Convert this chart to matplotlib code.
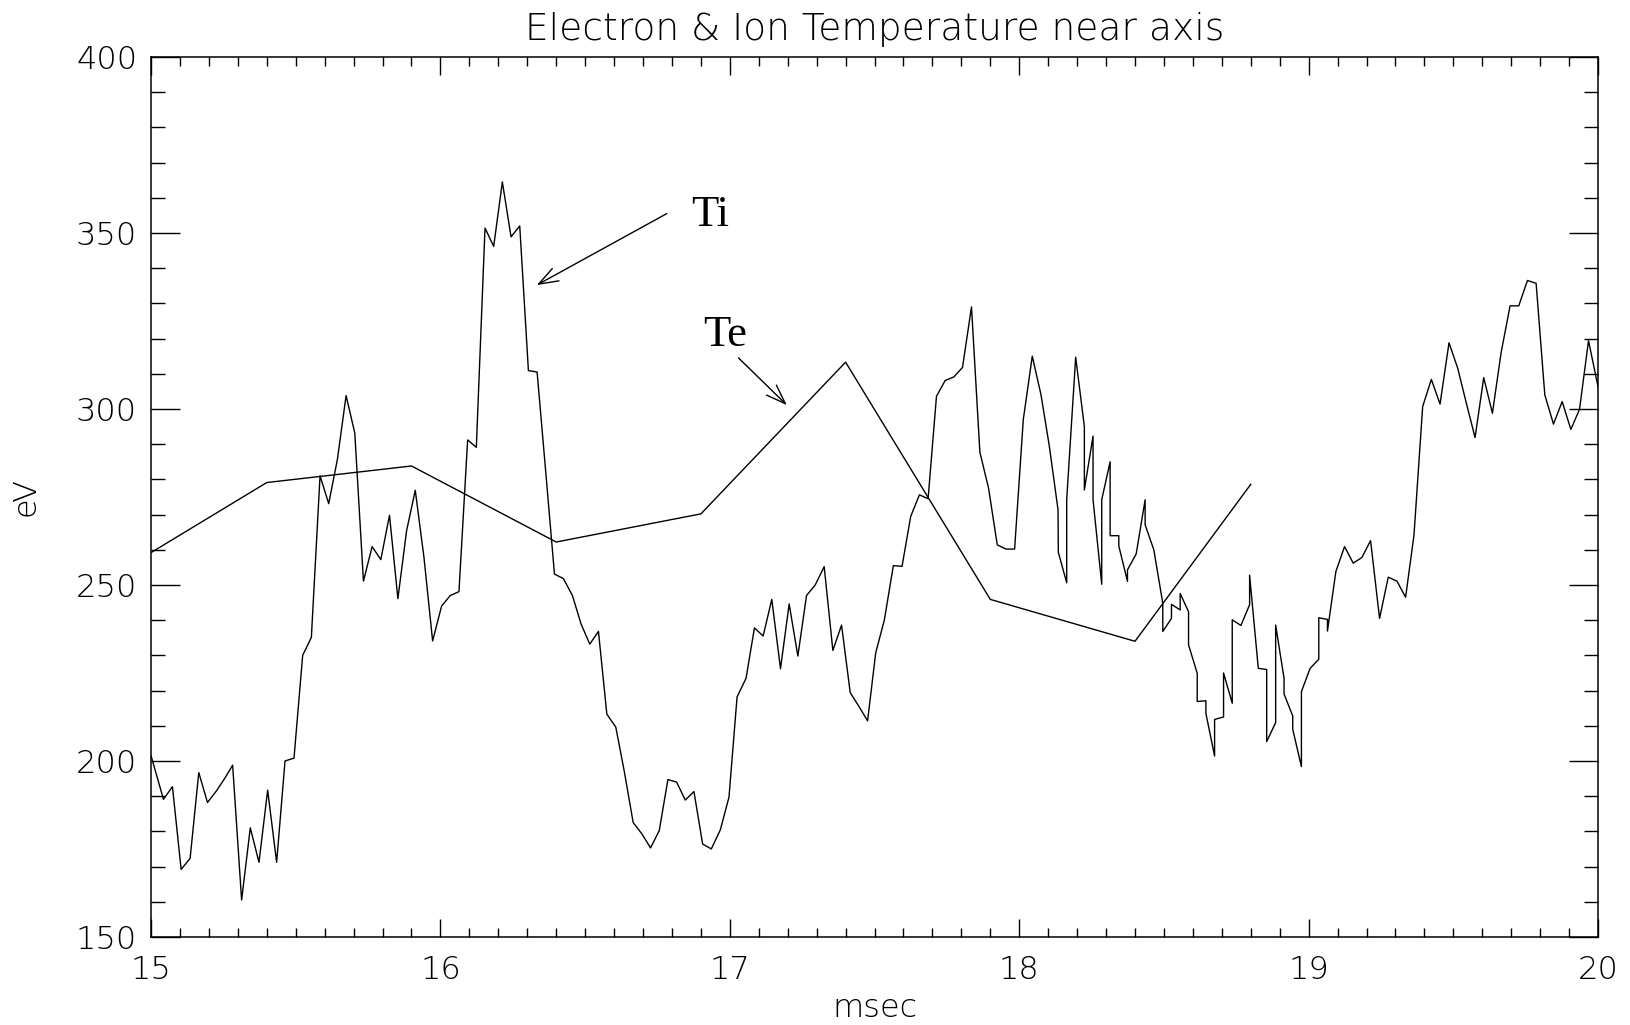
"""Electron & Ion Temperature near axis: Te (coarse) and Ti (fine) versus time."""

import matplotlib
matplotlib.use("Agg")
import matplotlib.pyplot as plt
from matplotlib.ticker import MultipleLocator


# Te: electron temperature, coarse samples (msec, eV)
te_time = [15.0, 15.4, 15.9, 16.4, 16.9, 17.4, 17.9, 18.4, 18.8]
te_value = [259.2, 279.1, 283.8, 262.2, 270.2, 313.3, 245.9, 234.0, 278.6]

# Ti: ion temperature, fine samples (msec, eV)
ti_time = [
    15.000, 15.043, 15.074, 15.104, 15.135, 15.165, 15.195, 15.227, 15.255, 15.282,
    15.313, 15.343, 15.373, 15.403, 15.434, 15.463, 15.494, 15.524, 15.554, 15.584,
    15.614, 15.644, 15.674, 15.704, 15.734, 15.764, 15.794, 15.824, 15.853, 15.883,
    15.913, 15.943, 15.973, 16.004, 16.034, 16.064, 16.094, 16.124, 16.154, 16.184,
    16.214, 16.244, 16.274, 16.304, 16.334, 16.364, 16.394, 16.425, 16.456, 16.486,
    16.516, 16.546, 16.575, 16.606, 16.636, 16.666, 16.696, 16.726, 16.756, 16.786,
    16.816, 16.846, 16.876, 16.906, 16.936, 16.967, 16.997, 17.025, 17.056, 17.085,
    17.115, 17.145, 17.175, 17.205, 17.235, 17.265, 17.295, 17.326, 17.356, 17.386,
    17.416, 17.446, 17.476, 17.504, 17.534, 17.565, 17.595, 17.625, 17.655, 17.685,
    17.714, 17.744, 17.774, 17.804, 17.835, 17.864, 17.894, 17.924, 17.954, 17.984,
    18.014, 18.045, 18.075, 18.104, 18.134, 18.135, 18.164, 18.164, 18.195, 18.225,
    18.225, 18.255, 18.255, 18.285, 18.285, 18.314, 18.314, 18.344, 18.344, 18.374,
    18.374, 18.404, 18.435, 18.435, 18.465, 18.496, 18.496, 18.526, 18.526, 18.556,
    18.556, 18.585, 18.585, 18.615, 18.615, 18.645, 18.645, 18.675, 18.675, 18.706,
    18.706, 18.736, 18.736, 18.766, 18.796, 18.796, 18.826, 18.855, 18.855, 18.886,
    18.886, 18.915, 18.915, 18.945, 18.945, 18.975, 18.975, 19.005, 19.035, 19.035,
    19.065, 19.065, 19.094, 19.124, 19.154, 19.184, 19.214, 19.245, 19.275, 19.305,
    19.335, 19.364, 19.394, 19.424, 19.454, 19.485, 19.515, 19.545, 19.575, 19.605,
    19.635, 19.665, 19.696, 19.726, 19.756, 19.786, 19.816, 19.846, 19.876, 19.906,
    19.936, 19.967, 20.000,
]
ti_value = [
    201.5, 189.1, 192.7, 169.2, 172.3, 196.7, 188.2, 191.6, 195.1, 198.8,
    160.5, 181.0, 171.2, 191.7, 171.2, 200.0, 200.8, 230.0, 235.1, 281.0,
    273.1, 285.7, 303.8, 293.2, 251.1, 260.9, 257.2, 269.8, 246.1, 265.4,
    276.9, 257.9, 234.1, 244.0, 247.0, 248.1, 291.2, 289.1, 351.4, 346.2,
    364.5, 348.9, 352.0, 310.9, 310.5, 282.0, 253.1, 251.8, 247.0, 238.9,
    233.2, 236.8, 213.3, 209.6, 196.7, 182.5, 179.3, 175.3, 180.2, 194.7,
    194.0, 188.9, 191.3, 176.4, 175.0, 180.4, 189.7, 218.2, 223.5, 237.8,
    235.5, 245.9, 226.2, 244.6, 229.8, 247.0, 250.0, 255.2, 231.4, 238.6,
    219.4, 215.5, 211.4, 230.7, 240.1, 255.5, 255.3, 269.5, 275.6, 274.5,
    303.6, 308.1, 309.1, 311.8, 329.0, 287.7, 277.5, 261.4, 260.2, 260.2,
    297.0, 315.0, 304.1, 289.4, 271.4, 259.3, 250.6, 274.3, 314.7, 295.0,
    277.0, 292.3, 274.2, 250.2, 274.2, 285.0, 264.0, 264.0, 261.1, 251.0,
    254.3, 258.8, 274.2, 267.1, 260.0, 244.8, 236.8, 240.5, 244.5, 242.9,
    247.6, 242.4, 233.0, 224.9, 216.9, 217.1, 213.5, 201.4, 211.8, 212.5,
    225.0, 216.4, 240.1, 238.5, 244.4, 252.8, 226.3, 226.0, 205.5, 210.9,
    238.6, 223.5, 219.0, 212.8, 209.0, 198.4, 219.7, 226.3, 228.9, 240.7,
    240.2, 236.9, 253.8, 260.9, 256.2, 257.8, 262.6, 240.5, 252.2, 251.1,
    246.5, 264.2, 300.7, 308.4, 301.4, 318.8, 311.6, 301.6, 291.9, 308.9,
    298.8, 316.0, 329.3, 329.3, 336.5, 335.7, 304.0, 295.7, 302.1, 294.2,
    299.9, 319.4, 306.3,
]

X_RANGE = (15, 20)
Y_RANGE = (150, 400)
TITLE = "Electron & Ion Temperature near axis"
X_LABEL = "msec"
Y_LABEL = "eV"

LABEL_FONT = ["DejaVu Sans"]
NOTE_FONT = ["Liberation Serif", "DejaVu Serif"]


def main() -> None:
    fig = plt.figure(figsize=(16.31, 10.25), dpi=100)
    ax = fig.add_axes([0.0926, 0.0859, 0.8872, 0.8585])

    ax.plot(ti_time, ti_value, color="black", lw=1.0)
    ax.plot(te_time, te_value, color="black", lw=1.0)

    ax.set_xlim(*X_RANGE)
    ax.set_ylim(*Y_RANGE)

    ax.xaxis.set_major_locator(MultipleLocator(1))
    ax.xaxis.set_minor_locator(MultipleLocator(0.1))
    ax.yaxis.set_major_locator(MultipleLocator(50))
    ax.yaxis.set_minor_locator(MultipleLocator(10))

    ax.tick_params(axis="both", which="both", direction="in",
                   top=True, right=True, width=1.0, color="black")
    ax.tick_params(axis="x", which="major", length=13, pad=13)
    ax.tick_params(axis="x", which="minor", length=6.5)
    ax.tick_params(axis="y", which="major", length=21, pad=10)
    ax.tick_params(axis="y", which="minor", length=10)

    for spine in ax.spines.values():
        spine.set_linewidth(1.1)

    for lab in ax.get_xticklabels() + ax.get_yticklabels():
        lab.set_family(LABEL_FONT)
        lab.set_fontweight("ultralight")
        lab.set_fontsize(23)

    ax.set_title(TITLE, family=LABEL_FONT, fontweight="ultralight",
                 fontsize=27, pad=12)
    ax.set_xlabel(X_LABEL, family=LABEL_FONT, fontweight="ultralight",
                  fontsize=23)
    ax.xaxis.set_label_coords(0.5, -0.064)
    ax.set_ylabel(Y_LABEL, family=LABEL_FONT, fontweight="ultralight",
                  fontsize=23)
    ax.yaxis.set_label_coords(-0.0767, 0.5)

    # annotations
    ax.text(16.868, 352.1, "Ti", family=NOTE_FONT, fontsize=32,
            ha="left", va="baseline")
    ax.text(16.908, 318.0, "Te", family=NOTE_FONT, fontsize=32,
            ha="left", va="baseline")
    arrow = dict(arrowstyle="->,head_length=0.5,head_width=0.18",
                 mutation_scale=28, lw=1.0, color="black",
                 shrinkA=0, shrinkB=0)
    ax.annotate("", xy=(16.333, 335.2), xytext=(16.782, 355.5), arrowprops=arrow)
    ax.annotate("", xy=(17.197, 301.1), xytext=(17.030, 314.5), arrowprops=arrow)

    fig.savefig("out.png", dpi=100, facecolor="white")
    plt.close(fig)


if __name__ == "__main__":
    main()
